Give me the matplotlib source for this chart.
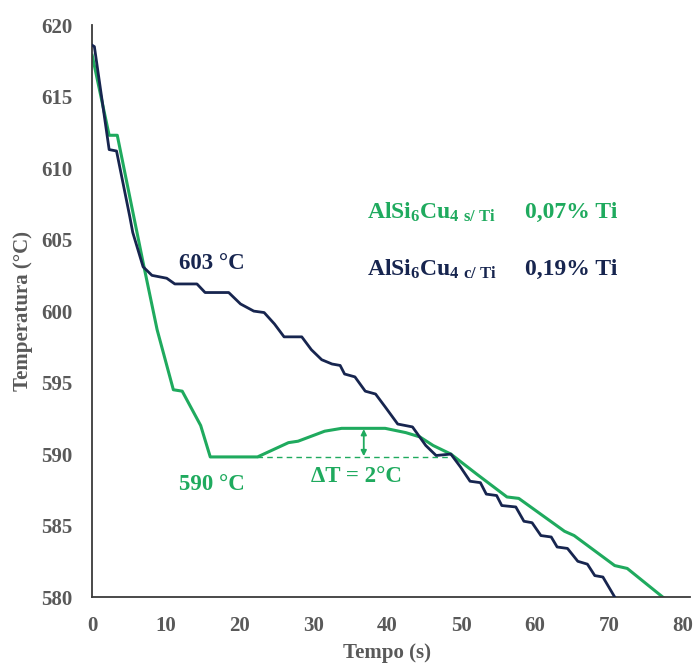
import matplotlib
matplotlib.use("Agg")
import matplotlib.pyplot as plt

# curve readings (time in s, temperature in °C)
navy_t = [0, 0.3, 2.3, 3.3, 5.1, 5.5, 6.9, 8.1, 10.1, 11.2, 14.2, 15.3, 18.5, 20.1,
          21.9, 23.3, 24.7, 26.0, 28.4, 29.7, 31.1, 32.5, 33.6, 34.2, 35.6, 37.0,
          38.4, 39.7, 41.4, 43.4, 45.2, 46.6, 48.6, 49.9, 51.2, 52.6, 53.4, 54.8,
          55.5, 57.4, 58.5, 59.6, 60.8, 62.2, 63.0, 64.4, 65.8, 67.1, 68.1, 69.2, 70.8]
navy_T = [618.6, 618.5, 611.3, 611.2, 606.6, 605.5, 603.1, 602.5, 602.3, 601.9,
          601.9, 601.3, 601.3, 600.5, 600.0, 599.9, 599.1, 598.2, 598.2, 597.3,
          596.6, 596.3, 596.2, 595.6, 595.4, 594.4, 594.2, 593.3, 592.1, 591.9,
          590.6, 589.9, 590.0, 589.1, 588.1, 588.0, 587.2, 587.1, 586.4, 586.3,
          585.3, 585.2, 584.3, 584.2, 583.5, 583.4, 582.5, 582.3, 581.5, 581.4, 580.0]

green_t = [0, 2.3, 3.4, 6.9, 8.8, 11.0, 12.2, 14.7, 16.0, 22.4, 24.5, 26.6, 27.9,
           31.5, 33.8, 39.7, 42.5, 44.4, 46.2, 48.6, 52.1, 56.2, 57.8, 64.0, 65.3,
           70.8, 72.5, 77.3]
green_T = [617.9, 612.3, 612.3, 603.4, 598.7, 594.5, 594.4, 592.0, 589.8, 589.8,
           590.3, 590.8, 590.9, 591.6, 591.8, 591.8, 591.5, 591.2, 590.6, 590.0,
           588.6, 587.0, 586.9, 584.6, 584.3, 582.2, 582.0, 580.0]

x_ticks = [0, 10, 20, 30, 40, 50, 60, 70, 80]
y_ticks = [580, 585, 590, 595, 600, 605, 610, 615, 620]

GREEN = "#1FAA5E"
NAVY = "#17254F"
GRAY = "#595959"

plt.rcParams["font.family"] = "Liberation Serif"
plt.rcParams["font.weight"] = "bold"
plt.rcParams["mathtext.fontset"] = "custom"
plt.rcParams["mathtext.rm"] = "Liberation Serif:bold"
plt.rcParams["mathtext.it"] = "Liberation Serif:bold"
plt.rcParams["mathtext.bf"] = "Liberation Serif:bold"

fig = plt.figure(figsize=(6.93, 6.63), dpi=100)
ax = fig.add_axes([0.133, 0.0995, 0.852, 0.8625])

ax.plot(navy_t, navy_T, color=NAVY, lw=2.0, zorder=3)
ax.plot(green_t, green_T, color=GREEN, lw=2.2, zorder=2)

ax.set_xlim(0, 80)
ax.set_ylim(580, 620)
ax.set_xticks(x_ticks)
ax.set_yticks(y_ticks)
ax.tick_params(length=0, labelsize=15, labelcolor=GRAY)
ax.tick_params(axis="y", pad=14)
ax.tick_params(axis="x", pad=14)
for s in ["top", "right"]:
    ax.spines[s].set_visible(False)
for s in ["left", "bottom"]:
    ax.spines[s].set_color("#3a3a3a")
    ax.spines[s].set_linewidth(1.3)
ax.spines["bottom"].set_bounds(0, 81)

ax.set_xlabel("Tempo (s)", fontsize=15, color=GRAY, fontweight="bold", labelpad=5)
ax.set_ylabel("Temperatura (°C)", fontsize=15, color=GRAY, fontweight="bold", labelpad=6)

# annotations
ax.text(16.2, 603.3, "603 °C", color=NAVY, fontsize=16.5, ha="center", va="center")
ax.text(16.2, 587.9, "590 °C", color=GREEN, fontsize=16.5, ha="center", va="center")
ax.text(35.8, 588.4, "ΔT = 2°C", color=GREEN, fontsize=16.5, ha="center", va="center")
ax.plot([22.4, 48.6], [589.8, 589.8], color=GREEN, lw=1, ls=(0, (4, 3)), zorder=1)
ax.annotate("", xy=(36.8, 589.85), xytext=(36.8, 591.75),
            arrowprops=dict(arrowstyle="<|-|>", color=GREEN, lw=1.3,
                            mutation_scale=8, shrinkA=0, shrinkB=0))

ax.text(37.3, 606.9, r"AlSi$_6$Cu$_4$$_{\ \mathrm{s/\ Ti}}$", color=GREEN,
        fontsize=17, ha="left", va="center")
ax.text(58.7, 606.9, "0,07% Ti", color=GREEN, fontsize=17, ha="left", va="center")
ax.text(37.3, 602.9, r"AlSi$_6$Cu$_4$$_{\ \mathrm{c/\ Ti}}$", color=NAVY,
        fontsize=17, ha="left", va="center")
ax.text(58.7, 602.9, "0,19% Ti", color=NAVY, fontsize=17, ha="left", va="center")

fig.savefig("out.png", dpi=100)
